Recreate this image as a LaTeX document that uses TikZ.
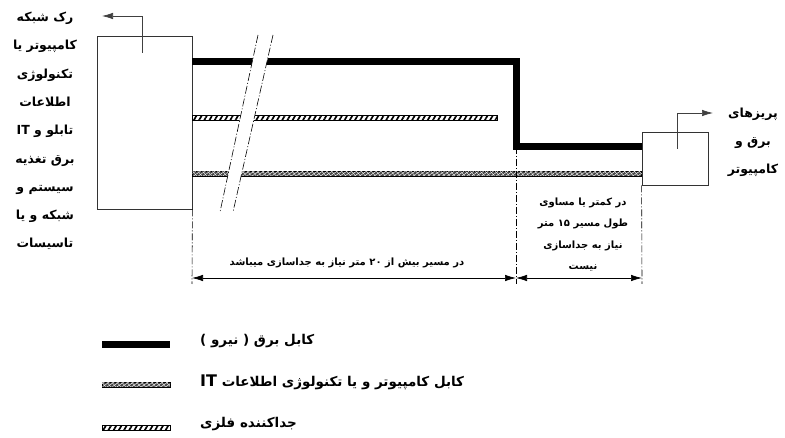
\documentclass[tikz,border=0pt]{standalone}
\usepackage{fontspec}
\usetikzlibrary{arrows.meta,patterns.meta}
\TeXXeTstate=1
\newfontfamily\fa[Script=Arabic]{DejaVu Sans}
\newcommand\rtltext[1]{\beginR #1\endR}
\newcommand\ltrtext[1]{\beginL #1\endL{}}
\begin{document}
\begin{tikzpicture}[x=1pt,y=-1pt,
  box/.style={draw=black!80, line width=0.8pt, inner sep=0pt},
  power/.style={line width=7pt, line join=miter},
  dimline/.style={line width=0.6pt, dash pattern=on 7pt off 2pt on 1pt off 2pt},
  dimarrow/.style={line width=0.7pt, {Latex[length=11pt,width=6.5pt]}-{Latex[length=11pt,width=6.5pt]}},
  ptr/.style={line width=0.7pt, draw=black!75, -{Latex[length=11pt,width=6.5pt]}},
  lbl/.style={font=\fa\bfseries\fontsize{12.5}{28.3}\selectfont, align=center, inner sep=0pt},
  dimlbl/.style={font=\fa\bfseries\fontsize{10}{21.5}\selectfont, align=center, inner sep=0pt},
  leg/.style={font=\fa\bfseries\fontsize{13.5}{16}\selectfont, anchor=west, inner sep=0pt},
  breakline/.style={line width=0.6pt, dash pattern=on 8pt off 2pt on 1pt off 2pt},
  itfill/.style={draw=black, line width=0.5pt, fill=black!72},
  itpatA/.style={pattern={Lines[angle=35,distance=2.8pt,line width=0.45pt]}, pattern color=white},
  itpatB/.style={pattern={Lines[angle=-50,distance=3.8pt,line width=0.35pt]}, pattern color=white},
  sepfill/.style={draw=black, line width=0.5pt, pattern={Lines[angle=60,distance=4.5pt,line width=1.7pt]}}
]
\useasboundingbox (0,0) rectangle (785,438);

% boxes
\node[box, minimum width=95pt, minimum height=173pt] (rack) at (144.5,122.5) {};
\node[box, minimum width=66pt, minimum height=53pt] (outlet) at (675,158.5) {};

% cable coordinates
\coordinate (p0) at (192,62);
\coordinate (p1) at (516,62);
\coordinate (p2) at (516,147);
\coordinate (p3) at (outlet.west |- p2);
\coordinate (s0) at (192,118);
\coordinate (s1) at (497,118);
\coordinate (c0) at (192,174);
\coordinate (c1) at (outlet.west |- c0);

% power cable
\draw[power] (p0) -- (p1) -- (p2) -- (p3);
% separator
\path[sepfill] ([yshift=-2.5pt]s0) rectangle ([yshift=2.5pt]s1);
% IT cable
\path[itfill] ([yshift=-2.5pt]c0) rectangle ([yshift=2.5pt]c1);
\path[itpatA] ([yshift=-2pt]c0) rectangle ([yshift=2pt]c1);
\path[itpatB] ([yshift=-2pt]c0) rectangle ([yshift=2pt]c1);

% break
\coordinate (b1t) at (258,35); \coordinate (b1b) at (220,212);
\coordinate (b2t) at (273,35); \coordinate (b2b) at (233,212);
\fill[white] (b1t) -- (b2t) -- (b2b) -- (b1b) -- cycle;
\draw[breakline] (b1t) -- (b1b);
\draw[breakline] (b2t) -- (b2b);

% pointers
\coordinate (ra) at (142,53); \coordinate (rb) at (142,16); \coordinate (rc) at (102,16);
\draw[ptr] (ra) -- (rb) -- (rc);
\coordinate (oa) at (677,149); \coordinate (ob) at (677,113); \coordinate (oc) at (713,113);
\draw[ptr] (oa) -- (ob) -- (oc);

% labels
\node[lbl] (rackl) at (45,131) {\rtltext{رک شبکه}\\\rtltext{کامپیوتر یا}\\\rtltext{تکنولوژی}\\\rtltext{اطلاعات}\\\rtltext{تابلو و \ltrtext{IT}}\\\rtltext{برق تغذیه}\\\rtltext{سیستم و}\\\rtltext{شبکه و یا}\\\rtltext{تاسیسات}};
\node[lbl, font=\fa\bfseries\fontsize{12.5}{28}\selectfont] (outl) at (753,142) {\rtltext{پریزهای}\\\rtltext{برق و}\\\rtltext{کامپیوتر}};

% dimension lines
\coordinate (d0) at (192,284); \coordinate (d1) at (516,284); \coordinate (d2) at (642,284);
\draw[dimline] (rack.south east) -- (d0);
\draw[dimline] (p2) -- (d1);
\draw[dimline] (outlet.south west) -- (d2);
\coordinate (a0) at (192,278); \coordinate (a1) at (516,278); \coordinate (a2) at (642,278);
\draw[dimarrow] (a0) -- (a1);
\draw[dimarrow] (a1) -- (a2);
\node[dimlbl] (dl1) at (347,263) {\rtltext{در مسیر بیش از \ltrtext{۲۰} متر نیاز به جداسازی میباشد}};
\node[dimlbl] (dl2) at (583,234.5) {\rtltext{در کمتر یا مساوی}\\\rtltext{طول مسیر \ltrtext{۱۵} متر}\\\rtltext{نیاز به جداسازی}\\\rtltext{نیست}};

% legend
\coordinate (l1a) at (102,345); \coordinate (l1b) at (170,345);
\draw[line width=7pt] (l1a) -- (l1b);
\coordinate (l2a) at (102,385); \coordinate (l2b) at (170,385);
\path[itfill] ([yshift=-2.5pt]l2a) rectangle ([yshift=2.5pt]l2b);
\path[itpatA] ([yshift=-2pt]l2a) rectangle ([yshift=2pt]l2b);
\path[itpatB] ([yshift=-2pt]l2a) rectangle ([yshift=2pt]l2b);
\coordinate (l3a) at (102,428); \coordinate (l3b) at (170,428);
\path[sepfill] ([yshift=-2.5pt]l3a) rectangle ([yshift=2.5pt]l3b);

\node[leg] (t1) at (200,341) {\rtltext{کابل برق ( نیرو )}};
\node[leg] (t2) at (200,382) {\rtltext{کابل کامپیوتر و یا تکنولوژی اطلاعات \ltrtext{\fontsize{16}{16}\selectfont IT}}};
\node[leg] (t3) at (200,424) {\rtltext{جداکننده فلزی}};
\end{tikzpicture}
\end{document}
